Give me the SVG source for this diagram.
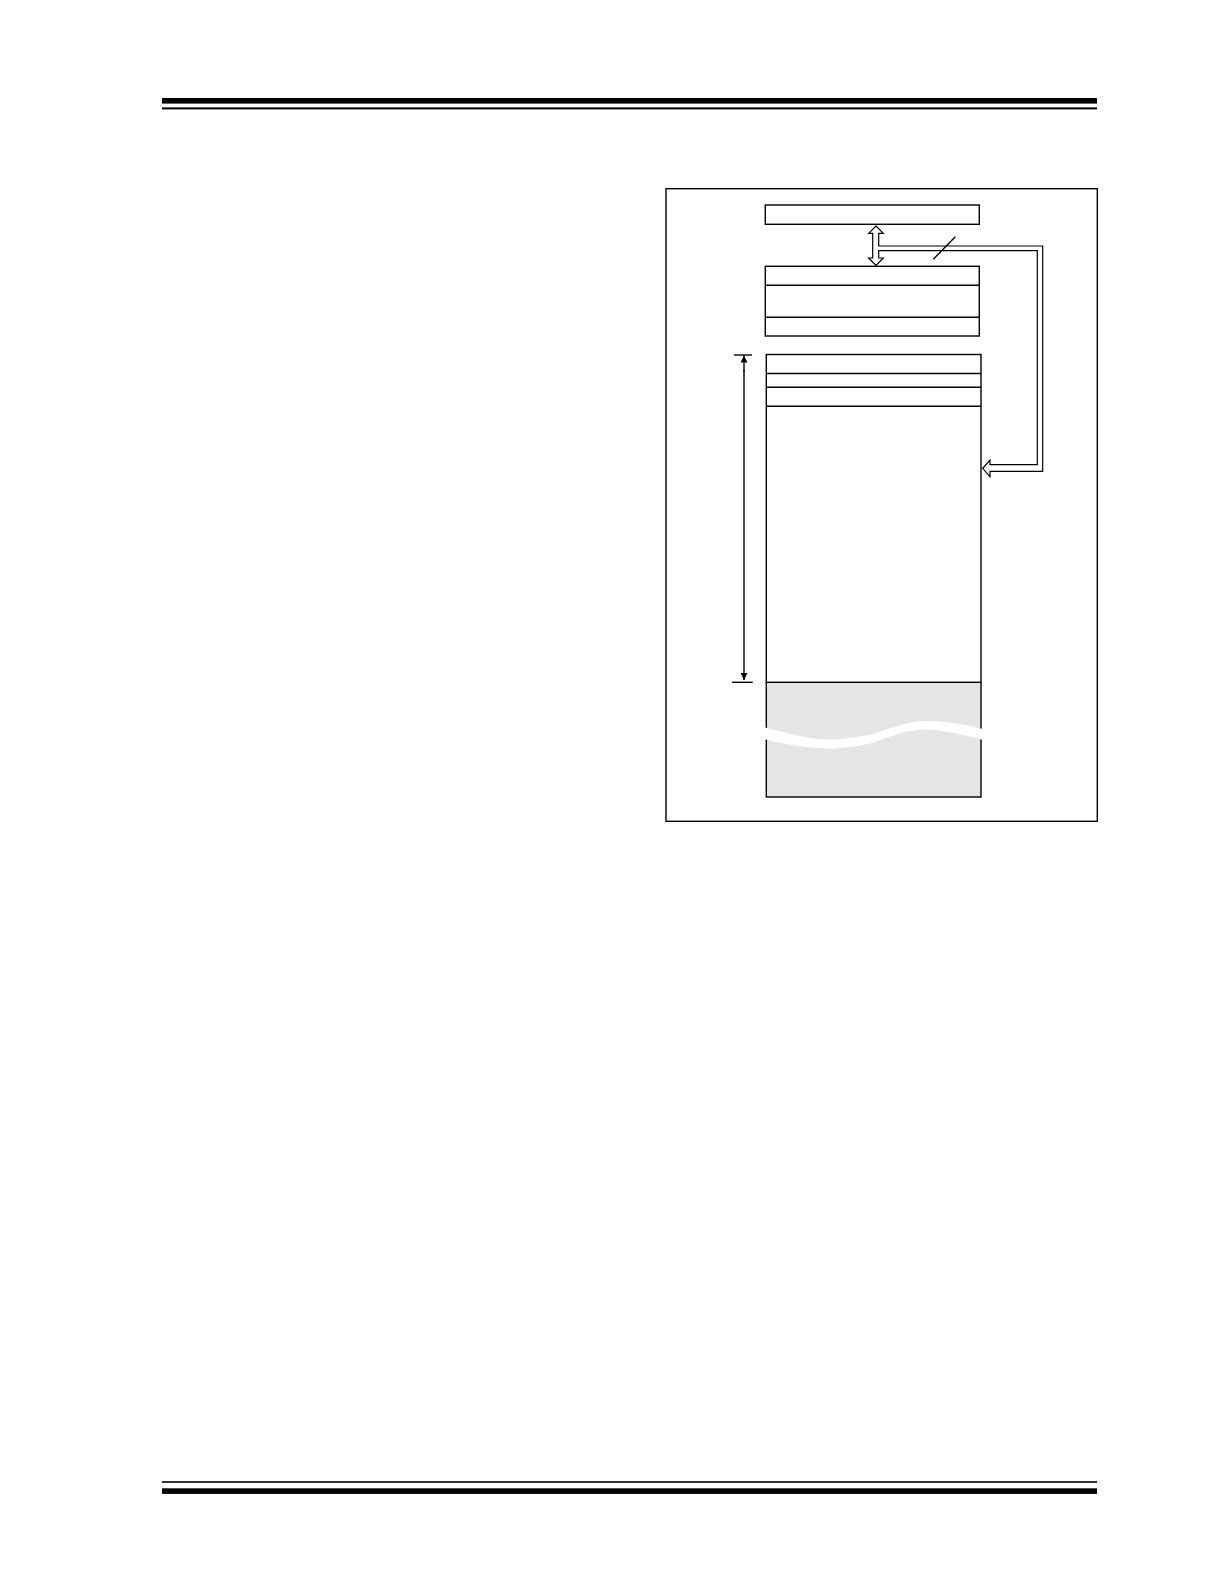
<svg xmlns="http://www.w3.org/2000/svg" width="1224" height="1584" viewBox="0 0 1224 1584">
<style>
.box{fill:#ffffff;stroke:#000000;stroke-width:1.4}
.ln{fill:none;stroke:#000000;stroke-width:1.4}
.hollow{fill:#ffffff;stroke:#000000;stroke-width:1.2;stroke-linejoin:miter}
</style>
<defs>
<marker id="ah" viewBox="0 0 10 10" refX="10" refY="5" markerWidth="11" markerHeight="7" markerUnits="userSpaceOnUse" orient="auto">
<path d="M0,0 L10,5 L0,10 Z" fill="#000000"/>
</marker>
</defs>
<rect width="1224" height="1584" fill="#ffffff"/>
<g id="page-rules">
<rect x="162" y="98" width="935" height="5.6" fill="#000000"/>
<rect x="162" y="107.4" width="935" height="2" fill="#000000"/>
<rect x="162" y="1481.2" width="935" height="1.6" fill="#000000"/>
<rect x="162" y="1488.3" width="935" height="5.6" fill="#000000"/>
</g>
<g id="frame">
<rect x="666" y="188.7" width="431.3" height="632.6" fill="none" stroke="#000000" stroke-width="1.4"/>
</g>
<g id="top-box">
<rect class="box" x="765.3" y="205" width="214" height="19.3"/>
</g>
<g id="middle-box">
<rect class="box" x="765.3" y="266.3" width="214" height="69.7"/>
<line class="ln" x1="765.3" y1="285.3" x2="979.3" y2="285.3"/>
<line class="ln" x1="765.3" y1="317.3" x2="979.3" y2="317.3"/>
</g>
<g id="memory-box">
<rect x="766.3" y="682.3" width="214.7" height="114.7" fill="#e5e5e5" stroke="#000000" stroke-width="1.4"/>
<rect class="box" x="766.3" y="354.5" width="214.7" height="327.8"/>
<line class="ln" x1="766.3" y1="373.5" x2="981" y2="373.5"/>
<line class="ln" x1="766.3" y1="387.3" x2="981" y2="387.3"/>
<line class="ln" x1="766.3" y1="406.3" x2="981" y2="406.3"/>
<path d="M762,726.5 C775,730 790,735 820,739.3 C835,740 850,739 873.3,734 C890,728 905,722 926.7,721 C945,721 962,724 985,729.5 L985,740.5 C962,734 945,731 926.7,729.3 C905,730 890,737 873.3,742.7 C850,748 835,749 820,748.3 C790,746 775,742 762,738.5 Z" fill="#ffffff"/>
</g>
<g id="connectors">
<path class="hollow" d="M876,226 L883.3,233.3 L878.7,233.3 L878.7,246 L1042.7,246 L1042.7,471.3 L990,471.3 L990,476.7 L982.7,468.3 L990,460 L990,464.7 L1037.3,464.7 L1037.3,250.7 L878.7,250.7 L878.7,258 L883.3,258 L876,265.3 L868.7,258 L872.7,258 L872.7,233.3 L868.7,233.3 Z"/>
<line class="ln" x1="933.3" y1="259.3" x2="955.3" y2="236.7"/>
<line x1="744" y1="372" x2="744" y2="355.5" stroke="#000000" stroke-width="1.4" marker-end="url(#ah)"/>
<line x1="744" y1="370" x2="744" y2="680" stroke="#000000" stroke-width="1.4" marker-end="url(#ah)"/>
<line class="ln" x1="734" y1="355" x2="752" y2="355"/>
<line class="ln" x1="732" y1="682.3" x2="752.7" y2="682.3"/>
</g>
</svg>
